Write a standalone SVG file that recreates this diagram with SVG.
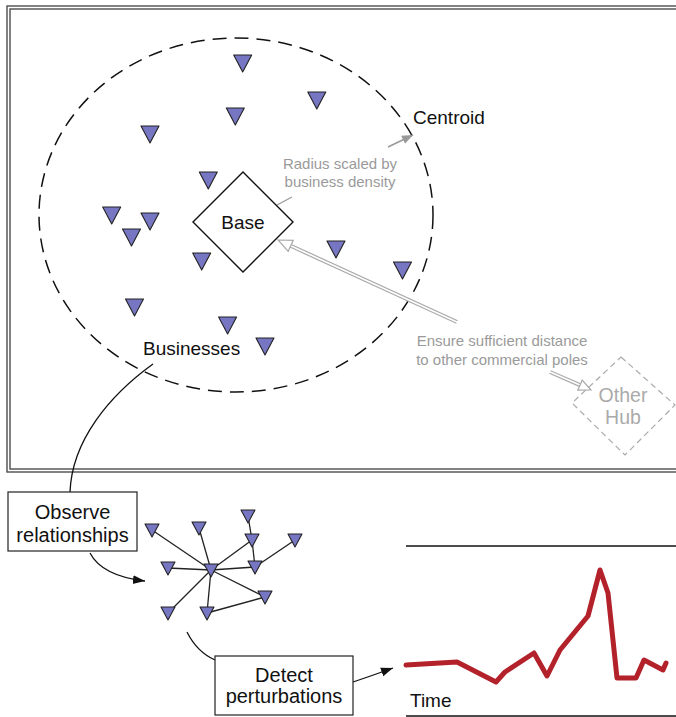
<svg xmlns="http://www.w3.org/2000/svg" width="676" height="717" viewBox="0 0 676 717">
<style>
  text { font-family: "Liberation Sans", Arial, sans-serif; }
  .lbl { font-size: 19px; fill: #111; }
  .box-t { font-size: 20px; fill: #111; text-anchor: middle; }
  .note { font-size: 15px; fill: #9a9a9a; text-anchor: middle; }
  .hub-t { font-size: 19.5px; fill: #aaaaaa; text-anchor: middle; }
  .frame { fill: none; stroke: #4d4d4d; stroke-width: 1.4; }
  .tri { fill: #7676c2; stroke: #222; stroke-width: 1.1; stroke-linejoin: round; }
  .edge { stroke: #222; stroke-width: 1.3; fill: none; }
  .conn { stroke: #111; stroke-width: 1.3; fill: none; }
  .box { fill: #fff; stroke: #222; stroke-width: 1.2; }
  .dbl-o { stroke: #aaaaaa; stroke-width: 4; fill: none; }
  .dbl-i { stroke: #fff; stroke-width: 1.6; fill: none; }
  .hollow { fill: #fff; stroke: #aaaaaa; stroke-width: 1.2; stroke-linejoin: miter; }
</style>
<defs>
  <path id="tri" d="M-9,0 L9,0 L0,17 Z"/>
  <path id="tri-s" d="M-7,-6 L7,-6 L0,7 Z"/>
  <marker id="ah-black" viewBox="0 0 12 10" refX="12" refY="5" markerWidth="12" markerHeight="10" markerUnits="userSpaceOnUse" orient="auto">
    <path d="M0,0.5 L12,5 L0,9.5 Z" fill="#111"/>
  </marker>
  <marker id="ah-gray" viewBox="0 0 11 10" refX="11" refY="5" markerWidth="11" markerHeight="10" markerUnits="userSpaceOnUse" orient="auto">
    <path d="M0,0.5 L11,5 L0,9.5 Z" fill="#9a9a9a"/>
  </marker>
</defs>

<g id="frame">
  <rect class="frame" x="7" y="6" width="690" height="466"/>
  <rect class="frame" x="10" y="9" width="690" height="460"/>
</g>

<g id="centroid-circle">
  <ellipse cx="236" cy="215" rx="197" ry="177" fill="none" stroke="#111" stroke-width="1.5" stroke-dasharray="14 8"/>
</g>

<g id="connectors">
  <line x1="388" y1="147" x2="413" y2="135" stroke="#9a9a9a" stroke-width="1.6" marker-end="url(#ah-gray)"/>
  <line x1="277" y1="205" x2="292" y2="197" stroke="#9a9a9a" stroke-width="1.2"/>
  <path class="dbl-o" d="M457,322 L290.7,245.8"/>
  <path class="dbl-i" d="M458,322.5 L289,245"/>
  <polygon class="hollow" points="278,240 293.2,240.3 288.2,251.3"/>
  <path class="dbl-o" d="M550,372 L580,385.2"/>
  <path class="dbl-i" d="M549,371.6 L581,385.6"/>
  <polygon class="hollow" points="591,390 577.8,390.2 582.2,380.2"/>
  <path class="conn" d="M153,364 C110,395 72,440 70,492"/>
  <path class="conn" d="M90,553 Q102,576 145,581" marker-end="url(#ah-black)"/>
  <path class="conn" d="M187,632 Q197,652 215,660"/>
  <path class="conn" d="M353,682 Q371,676 393,668" marker-end="url(#ah-black)"/>
</g>

<g id="base">
  <polygon points="243,172 293,222 243,272 193,222" fill="#fff" stroke="#111" stroke-width="1.4"/>
  <text class="lbl" x="243" y="229" text-anchor="middle">Base</text>
</g>

<g id="other-hub">
  <polygon points="621,357 675,405 625,455 572,403" fill="none" stroke="#aaaaaa" stroke-width="1.2" stroke-dasharray="6 4"/>
  <text class="hub-t" x="623" y="402">Other</text>
  <text class="hub-t" x="623" y="424">Hub</text>
</g>

<g id="businesses">
  <use href="#tri" class="tri" x="242.7" y="55"/>
  <use href="#tri" class="tri" x="316.8" y="92"/>
  <use href="#tri" class="tri" x="235.3" y="108"/>
  <use href="#tri" class="tri" x="150" y="126"/>
  <use href="#tri" class="tri" x="208.3" y="172"/>
  <use href="#tri" class="tri" x="111.7" y="207"/>
  <use href="#tri" class="tri" x="150" y="213"/>
  <use href="#tri" class="tri" x="131.5" y="229"/>
  <use href="#tri" class="tri" x="201.7" y="253"/>
  <use href="#tri" class="tri" x="336" y="241"/>
  <use href="#tri" class="tri" x="402.5" y="262"/>
  <use href="#tri" class="tri" x="134.5" y="299"/>
  <use href="#tri" class="tri" x="227.6" y="317"/>
  <use href="#tri" class="tri" x="265" y="338"/>
  <text class="lbl" x="143" y="355">Businesses</text>
</g>

<g id="centroid-label">
  <text class="lbl" x="413" y="124">Centroid</text>
</g>

<g id="radius-note">
  <text class="note" x="340" y="169">Radius scaled by</text>
  <text class="note" x="340" y="187">business density</text>
</g>

<g id="distance-note">
  <text class="note" x="502" y="346">Ensure sufficient distance</text>
  <text class="note" x="502" y="365">to other commercial poles</text>
</g>

<g id="observe">
  <rect class="box" x="8" y="492" width="129" height="59"/>
  <text class="box-t" x="72.5" y="519">Observe</text>
  <text class="box-t" x="72.5" y="542">relationships</text>
</g>

<g id="network">
  <g class="edges">
    <line class="edge" x1="211" y1="570" x2="152" y2="530"/>
    <line class="edge" x1="211" y1="570" x2="199" y2="528"/>
    <line class="edge" x1="211" y1="570" x2="252" y2="540"/>
    <line class="edge" x1="211" y1="570" x2="168" y2="568"/>
    <line class="edge" x1="211" y1="570" x2="255" y2="567"/>
    <line class="edge" x1="211" y1="570" x2="265" y2="597"/>
    <line class="edge" x1="211" y1="570" x2="168" y2="613"/>
    <line class="edge" x1="211" y1="570" x2="207" y2="613"/>
    <line class="edge" x1="248" y1="516" x2="252" y2="540"/>
    <line class="edge" x1="252" y1="540" x2="255" y2="567"/>
    <line class="edge" x1="255" y1="567" x2="295" y2="540"/>
    <line class="edge" x1="207" y1="613" x2="265" y2="597"/>
  </g>
  <use href="#tri-s" class="tri" x="152" y="530"/>
  <use href="#tri-s" class="tri" x="199" y="528"/>
  <use href="#tri-s" class="tri" x="248" y="516"/>
  <use href="#tri-s" class="tri" x="252" y="540"/>
  <use href="#tri-s" class="tri" x="295" y="540"/>
  <use href="#tri-s" class="tri" x="168" y="568"/>
  <use href="#tri-s" class="tri" x="211" y="570"/>
  <use href="#tri-s" class="tri" x="255" y="567"/>
  <use href="#tri-s" class="tri" x="265" y="597"/>
  <use href="#tri-s" class="tri" x="168" y="613"/>
  <use href="#tri-s" class="tri" x="207" y="613"/>
</g>

<g id="detect">
  <rect class="box" x="215" y="656" width="138" height="59"/>
  <text class="box-t" x="284" y="682">Detect</text>
  <text class="box-t" x="284" y="703">perturbations</text>
</g>

<g id="chart">
  <line x1="406" y1="546" x2="676" y2="546" stroke="#111" stroke-width="1.5"/>
  <line x1="406" y1="716" x2="676" y2="716" stroke="#111" stroke-width="1.5"/>
  <polyline points="406,665 457,662 496,682 505,672 534,653 547,676 560,650 588,616 600,570 608,593 617,678 636,678 644,660 663,670 666,663" fill="none" stroke="#b3222a" stroke-width="5" stroke-linejoin="round" stroke-linecap="round"/>
  <text class="lbl" x="410" y="707">Time</text>
</g>
</svg>
